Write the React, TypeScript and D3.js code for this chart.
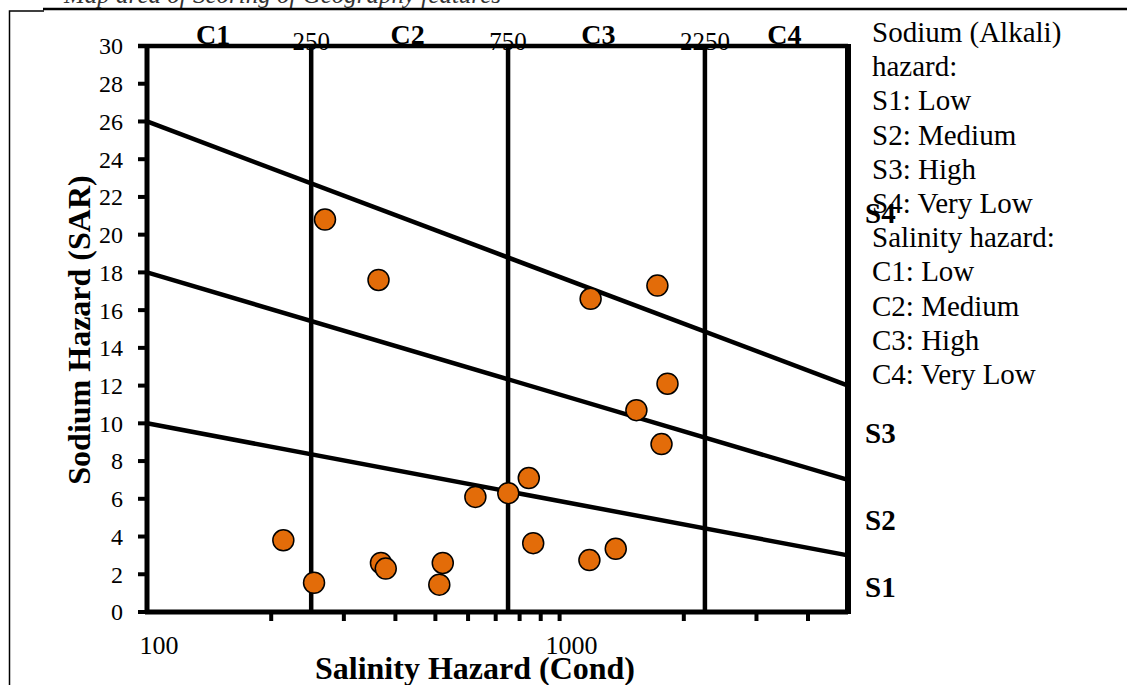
import React from 'react';
import * as d3 from 'd3';

// Wilcox-type diagram: sample points (conductivity, SAR)
const condValues = [270, 364, 214, 254, 369, 379, 521, 511, 625, 751, 842, 863, 1189, 1726, 1826, 1535, 1766, 1368, 1181];
const sarValues = [20.8, 17.6, 3.8, 1.55, 2.6, 2.3, 2.6, 1.45, 6.1, 6.3, 7.1, 3.65, 16.6, 17.3, 12.1, 10.7, 8.9, 3.35, 2.75];

// class boundaries
const salinityBreaks = [250, 750, 2250];
const salinityClasses = ['C1', 'C2', 'C3', 'C4'];
const sodiumLines = [
  { start: 26, end: 12 },
  { start: 18, end: 7 },
  { start: 10, end: 3 },
];
const sodiumClasses = ['S4', 'S3', 'S2', 'S1'];
const sodiumLabelY = [20.6, 8.95, 4.35, 0.8];

const yTicks = d3.range(0, 31, 2);
const xMinorTicks = [200, 300, 400, 500, 600, 700, 800, 900, 1000, 2000, 3000, 4000];
const xLabels = [100, 1000];

const legendLines = [
  'Sodium (Alkali)',
  'hazard:',
  'S1: Low',
  'S2: Medium',
  'S3: High',
  'S4: Very Low',
  'Salinity hazard:',
  'C1: Low',
  'C2: Medium',
  'C3: High',
  'C4: Very Low',
];

const serif = '"Liberation Serif", "Times New Roman", serif';

export default function App() {
  const width = 1127;
  const height = 685;
  const left = 147;
  const right = 848;
  const top = 46;
  const bottom = 612;

  const x = d3.scaleLog().domain([100, 5000]).range([left, right]);
  const y = d3.scaleLinear().domain([0, 30]).range([bottom, top]);
  const xMid = (a: number, b: number) => (x(a) + x(b)) / 2;

  const classEdges = [100, ...salinityBreaks, 5000];
  // nudges so the class names sit where the original put them
  const classNudge = [-16, -2, -8, 8];

  return (
    <svg
      width={width}
      height={height}
      style={{ position: 'absolute', left: 0, top: 0, background: '#fff' }}
      fontFamily={serif}
    >
      {/* page caption, cut off at the top */}
      <text x={64} y={3} fontSize={25} fontStyle="italic" fill="#333">
        Map area of Scoring of Geography features
      </text>
      <line x1={43} x2={1127} y1={9} y2={9} stroke="#000" strokeWidth={2.5} />
      <path d="M9.5,685 V11 H44" fill="none" stroke="#000" strokeWidth={1.5} />

      {/* class labels on top */}
      {salinityClasses.map((c, i) => (
        <text
          key={c}
          x={xMid(classEdges[i], classEdges[i + 1]) + classNudge[i]}
          y={44}
          fontSize={28}
          fontWeight="bold"
          textAnchor="middle"
        >
          {c}
        </text>
      ))}
      {salinityBreaks.map((b) => (
        <text key={b} x={x(b)} y={50} fontSize={25} textAnchor="middle">
          {b}
        </text>
      ))}

      {/* top boundary at SAR 30 */}
      <line x1={left - 9} x2={right} y1={y(30)} y2={y(30)} stroke="#000" strokeWidth={4.5} />

      {/* salinity class boundaries */}
      {salinityBreaks.map((b) => (
        <line key={b} x1={x(b)} x2={x(b)} y1={y(0)} y2={y(30)} stroke="#000" strokeWidth={4.5} />
      ))}
      <line x1={right} x2={right} y1={y(0) + 2} y2={y(30) - 2} stroke="#000" strokeWidth={6} />

      {/* sodium class boundaries */}
      {sodiumLines.map((l, i) => (
        <line
          key={i}
          x1={x(100)}
          x2={x(5000)}
          y1={y(l.start)}
          y2={y(l.end)}
          stroke="#000"
          strokeWidth={4.5}
        />
      ))}

      {/* axes */}
      <line x1={left} x2={left} y1={bottom + 2} y2={top - 2} stroke="#000" strokeWidth={5} />
      <line x1={left - 2} x2={right} y1={bottom} y2={bottom} stroke="#000" strokeWidth={5} />
      {yTicks.map((t) => (
        <g key={t}>
          <line x1={left - 9} x2={left} y1={y(t)} y2={y(t)} stroke="#000" strokeWidth={4} />
          <text x={123} y={y(t)} dy="0.35em" fontSize={24} textAnchor="end">
            {t}
          </text>
        </g>
      ))}
      {xMinorTicks.map((t) => (
        <line key={t} x1={x(t)} x2={x(t)} y1={bottom} y2={bottom + 9} stroke="#000" strokeWidth={4} />
      ))}
      {xLabels.map((t) => (
        <text key={t} x={x(t) + 12} y={654} fontSize={26} textAnchor="middle">
          {t}
        </text>
      ))}

      {/* axis titles */}
      <text x={475} y={679} fontSize={32} fontWeight="bold" textAnchor="middle">
        Salinity Hazard (Cond)
      </text>
      <text
        transform={`translate(90, 330) rotate(-90)`}
        fontSize={32}
        fontWeight="bold"
        textAnchor="middle"
      >
        Sodium Hazard (SAR)
      </text>

      {/* points */}
      {condValues.map((c, i) => (
        <circle
          key={i}
          cx={x(c)}
          cy={y(sarValues[i])}
          r={10.5}
          fill="#E36C09"
          stroke="#000"
          strokeWidth={1.5}
        />
      ))}

      {/* sodium class labels */}
      {sodiumClasses.map((s, i) => (
        <text key={s} x={865} y={y(sodiumLabelY[i])} fontSize={29} fontWeight="bold">
          {s}
        </text>
      ))}

      {/* legend text */}
      {legendLines.map((t, i) => (
        <text key={t} x={872} y={42 + i * 34.2} fontSize={29}>
          {t}
        </text>
      ))}
    </svg>
  );
}
